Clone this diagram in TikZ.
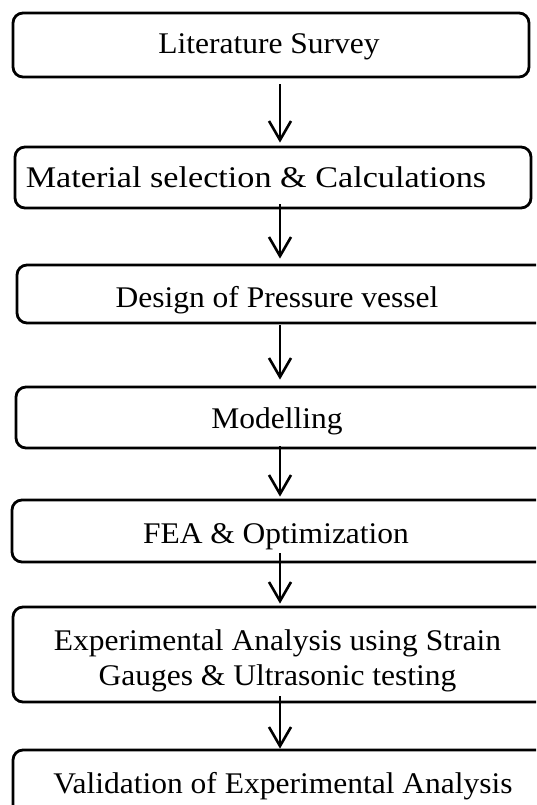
\documentclass[tikz,border=0pt]{standalone}
\usepackage{fontspec}
\usepackage{graphicx}
\setmainfont{Liberation Serif}[FakeStretch=1.05]
\usetikzlibrary{arrows.meta,calc}
\begin{document}
\begin{tikzpicture}[x=1pt,y=-1pt,
  stepbox/.style={draw=black, line width=2.8pt, rounded corners=10pt, rectangle, inner sep=0pt},
  steptext/.style={font=\fontsize{30}{35}\selectfont, inner sep=0pt, text=black},
  arr/.style={line width=2.6pt, -{Straight Barb[length=19pt,width=22pt,line width=2.6pt]}}]
\useasboundingbox (0,0) rectangle (536,805);
\clip (0,0) rectangle (536,805);
\fill[white] (0,0) rectangle (536,805);
\coordinate (ax) at (280,0);
% boxes
\node[stepbox, minimum width=516pt, minimum height=64pt] (b1) at (271,45) {};
\node[stepbox, minimum width=516pt, minimum height=61pt] (b2) at (273,177.5) {};
\node[stepbox, minimum width=531pt, minimum height=58pt] (b3) at (282.5,294) {};
\node[stepbox, minimum width=532pt, minimum height=61pt] (b4) at (282,417.5) {};
\node[stepbox, minimum width=536pt, minimum height=62pt] (b5) at (280,531) {};
\node[stepbox, minimum width=535pt, minimum height=95pt] (b6) at (280.5,654.5) {};
\node[stepbox, minimum width=535pt, minimum height=100pt] (b7) at (280.5,800) {};
% texts
\node[steptext, anchor=base] (t1) at (269,54) {Literature Survey};
\node[steptext, anchor=base] (t2) at (256,188) {\scalebox{1.085}[1]{Material selection \& Calculations}};
\node[steptext, anchor=base] (t3) at (277,307) {Design of Pressure vessel};
\node[steptext, anchor=base] (t4) at (277,428) {Modelling};
\node[steptext, anchor=base] (t5) at (276,543) {FEA \& Optimization};
\node[steptext, align=center] (t6) at (277.5,661) {Experimental Analysis using Strain\\Gauges \& Ultrasonic testing};
\node[steptext, anchor=base] (t7) at (283,793) {Validation of Experimental Analysis};
% arrows
\draw[arr] ($(b1.south -| ax)+(0,6)$) -- ($(b2.north -| ax)+(0,-3)$);
\draw[arr] ($(b2.south -| ax)+(0,-5)$) -- ($(b3.north -| ax)+(0,-5)$);
\draw[arr] ($(b3.south -| ax)+(0,1)$) -- ($(b4.north -| ax)+(0,-6)$);
\draw[arr] ($(b4.south -| ax)+(0,-3)$) -- ($(b5.north -| ax)+(0,-2)$);
\draw[arr] ($(b5.south -| ax)+(0,-10)$) -- ($(b6.north -| ax)+(0,-2)$);
\draw[arr] ($(b6.south -| ax)+(0,-7)$) -- ($(b7.north -| ax)+(0,0)$);
\end{tikzpicture}
\end{document}
